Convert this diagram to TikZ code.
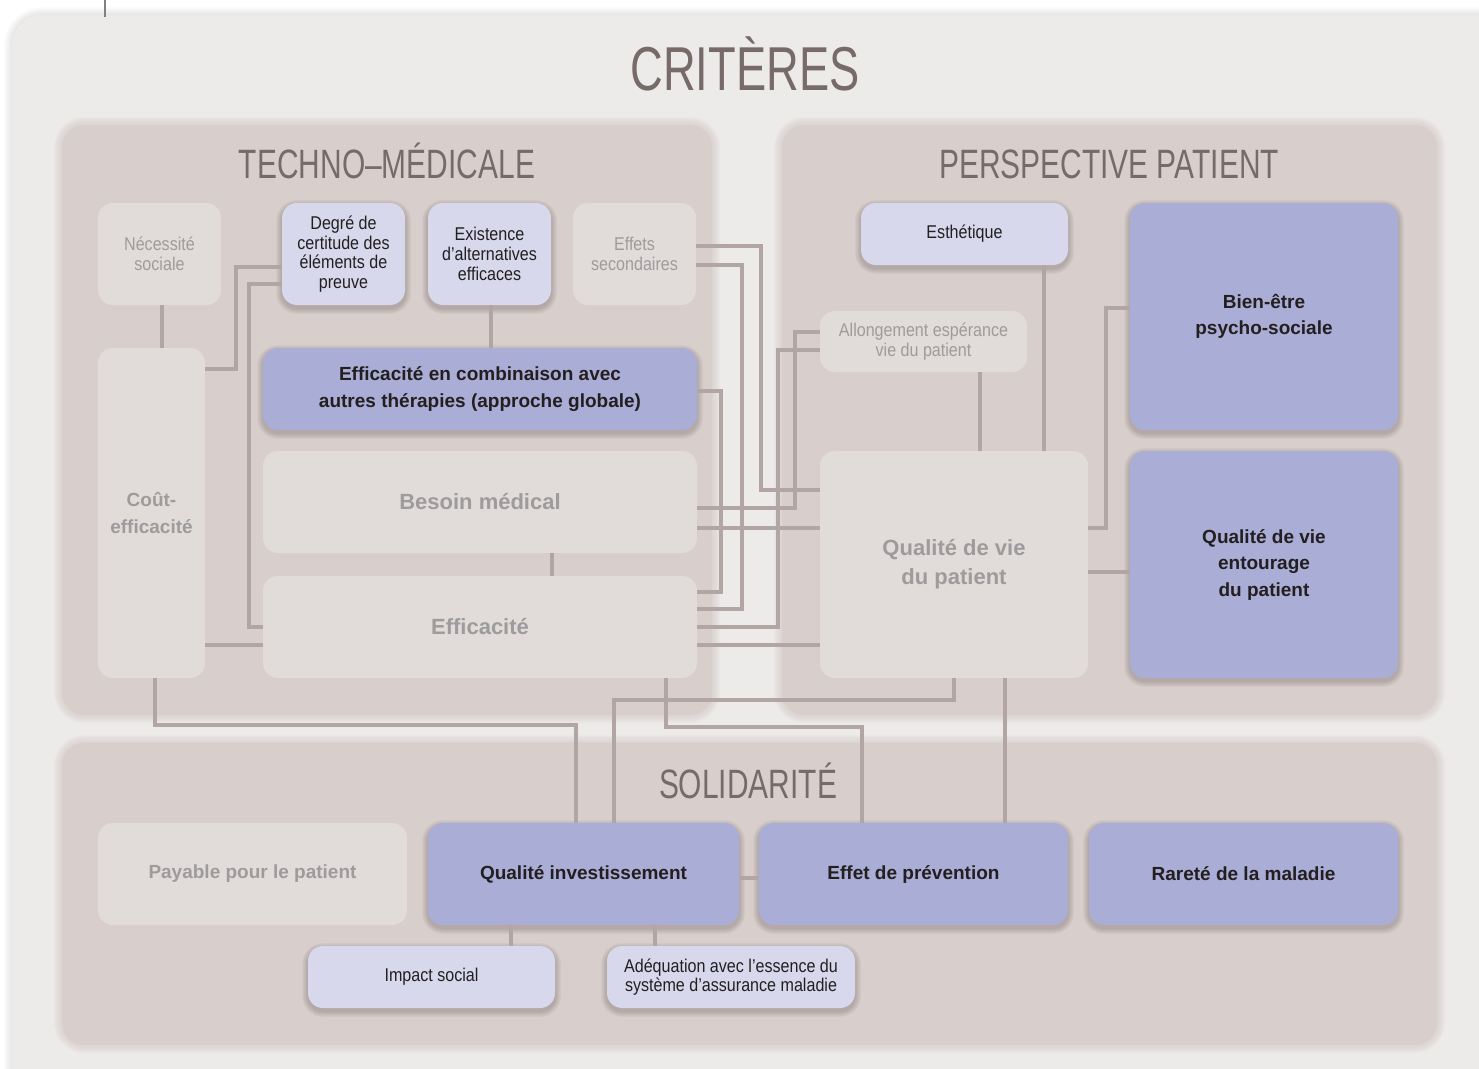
\documentclass[tikz,border=0pt]{standalone}
\usepackage{fontspec}
\setmainfont{Liberation Sans}
\newfontfamily\condfont[FakeStretch=0.87]{Liberation Sans}
\newfontfamily\headfont[FakeStretch=0.73]{Liberation Sans}

\definecolor{outerc}{HTML}{EDEBEA}
\definecolor{panelc}{HTML}{D8CFCD}
\definecolor{greyc}{HTML}{E1DCDA}
\definecolor{lilac}{HTML}{D7D8EC}
\definecolor{purplec}{HTML}{AAADD5}
\definecolor{linec}{HTML}{B1A6A4}
\definecolor{darktext}{HTML}{231F20}
\definecolor{greytext}{HTML}{9E9B9D}
\definecolor{headc}{HTML}{776B6A}
\definecolor{shadowc}{HTML}{3A2E2C}

\tikzset{
  conn/.style={draw=linec, line width=4pt},
  box/.style={rectangle, rounded corners=15pt, inner sep=2pt, align=center},
  greybox/.style={box, fill=greyc, text=greytext},
  lilabox/.style={box, fill=lilac, text=darktext},
  purplebox/.style={box, fill=purplec, text=darktext},
  condtext/.style={font=\condfont\fontsize{18.5}{19.7}\selectfont},
  boldtext/.style={font=\bfseries\fontsize{19}{26.5}\selectfont},
  bigbold/.style={font=\bfseries\fontsize{22}{29}\selectfont},
  headtitle/.style={text=headc, anchor=base, inner sep=0pt, font=\headfont\fontsize{62}{62}\selectfont},
  sectitle/.style={text=headc, anchor=base, inner sep=0pt, font=\headfont\fontsize{41}{41}\selectfont},
}

% box without shadow: name, x1, y1, x2, y2, style, text
\newcommand\flatbox[7]{%
  \node[#6, minimum width={#4-#2}, minimum height={#5-#3}] (#1)
    at ({(#2+#4)/2},{(#3+#5)/2}) {#7};}
% box with a soft drop shadow
\newcommand\liftbox[7]{%
  \foreach \k in {1,...,6}{%
    \fill[shadowc, opacity=0.04, rounded corners={(15+\k)*1pt}]
      ({#2-\k},{#3-\k+3}) rectangle ({#4+\k},{#5+\k+3});}%
  \flatbox{#1}{#2}{#3}{#4}{#5}{#6}{#7}}
% group panel with feathered edge
\newcommand\panel[4]{%
  \foreach \k in {1,...,8}{%
    \fill[panelc, opacity=0.13, rounded corners={(22+\k)*1pt}]
      ({#1-\k},{#2-\k}) rectangle ({#3+\k},{#4+\k});}%
  \fill[panelc, rounded corners=22pt] (#1,#2) rectangle (#3,#4);}

\begin{document}
\begin{tikzpicture}[x=1pt, y=-1pt]
\useasboundingbox (0,0) rectangle (1479,1068);
\fill[white] (0,0) rectangle (1479,1068);

% outer sheet
\foreach \k in {1,...,8}{%
  \fill[black, opacity=0.012, rounded corners={(30+\k)*1pt}]
    ({12-\k},{15-\k}) rectangle ({1510+\k},{1110+\k});}
\fill[outerc, rounded corners=30pt] (12,15) rectangle (1510,1110);
\draw[gray, line width=1.2pt] (105,0) -- (105,17);

% panels
\panel{62}{125}{712}{715}
\panel{782}{125}{1437}{715}
\panel{62}{743}{1437}{1045}

% titles
\node[headtitle] (title) at (745,90) {CRITÈRES};
\node[sectitle] (techt) at (387,178) {TECHNO–MÉDICALE};
\node[sectitle] (patt) at (1109,178) {PERSPECTIVE PATIENT};
\node[sectitle] (solt) at (748,798) {SOLIDARITÉ};

% techno-medical criteria
\flatbox{necessite}{98}{203}{221}{305}{greybox,condtext}{Nécessité\\sociale}
\liftbox{degre}{282}{203}{405}{305}{lilabox,condtext}{Degré de\\certitude des\\éléments de\\preuve}
\liftbox{existence}{428}{203}{551}{305}{lilabox,condtext}{Existence\\d’alternatives\\efficaces}
\flatbox{effets}{573}{203}{696}{305}{greybox,condtext}{Effets\\secondaires}
\flatbox{cout}{98}{348}{205}{678}{greybox,boldtext}{Coût-\\efficacité}
\liftbox{combinaison}{263}{348}{697}{430}{purplebox,boldtext}{Efficacité en combinaison avec\\autres thérapies (approche globale)}
\flatbox{besoin}{263}{451}{697}{553}{greybox,bigbold}{Besoin médical}
\flatbox{efficacite}{263}{576}{697}{678}{greybox,bigbold}{Efficacité}

% patient perspective
\liftbox{esthetique}{861}{203}{1068}{265}{lilabox,condtext}{Esthétique}
\flatbox{allong}{820}{311}{1027}{372}{greybox,condtext}{Allongement espérance\\vie du patient}
\liftbox{bienetre}{1130}{203}{1398}{430}{purplebox,boldtext}{Bien-être\\psycho-sociale}
\flatbox{qdvp}{820}{451}{1088}{678}{greybox,bigbold}{Qualité de vie\\du patient}
\liftbox{entourage}{1130}{451}{1398}{678}{purplebox,boldtext}{Qualité de vie\\entourage\\du patient}

% solidarity
\flatbox{payable}{98}{823}{407}{925}{greybox,boldtext}{Payable pour le patient}
\liftbox{qinvest}{428}{823}{739}{925}{purplebox,boldtext}{Qualité investissement}
\liftbox{prevention}{759}{823}{1068}{925}{purplebox,boldtext}{Effet de prévention}
\liftbox{rarete}{1089}{823}{1398}{925}{purplebox,boldtext}{Rareté de la maladie}
\liftbox{impact}{308}{946}{555}{1008}{lilabox,condtext}{Impact social}
\liftbox{adequation}{607}{946}{855}{1008}{lilabox,condtext}{Adéquation avec l’essence du\\système d’assurance maladie}

% connectors
\draw[conn] (necessite.south -| 162,0) -- (cout.north -| 162,0);
\draw[conn] (cout.east |- 0,369) -| (236,267) -- (degre.west |- 0,267);
\draw[conn] (degre.west |- 0,284) -| (249,627) -- (efficacite.west |- 0,627);
\draw[conn] (cout.east |- 0,645) -- (efficacite.west |- 0,645);
\draw[conn] (existence.south -| 491,0) -- (combinaison.north -| 491,0);
\draw[conn] (besoin.south -| 552,0) -- (efficacite.north -| 552,0);
\draw[conn] (combinaison.east |- 0,391) -| (721,592) -- (efficacite.east |- 0,592);
\draw[conn] (effets.east |- 0,265) -| (742,609) -- (efficacite.east |- 0,609);
\draw[conn] (effets.east |- 0,246) -| (761,490) -- (qdvp.west |- 0,490);
\draw[conn] (allong.west |- 0,350) -| (778,627) -- (efficacite.east |- 0,627);
\draw[conn] (allong.west |- 0,332) -| (795,508) -- (besoin.east |- 0,508);
\draw[conn] (besoin.east |- 0,528) -- (qdvp.west |- 0,528);
\draw[conn] (efficacite.east |- 0,645) -- (qdvp.west |- 0,645);
\draw[conn] (esthetique.south -| 1044,0) -- (qdvp.north -| 1044,0);
\draw[conn] (allong.south -| 980,0) -- (qdvp.north -| 980,0);
\draw[conn] (qdvp.east |- 0,528) -| (1106,308) -- (bienetre.west |- 0,308);
\draw[conn] (qdvp.east |- 0,572) -- (entourage.west |- 0,572);
\draw[conn] (cout.south -| 155,0) |- (576,725) -- (qinvest.north -| 576,0);
\draw[conn] (qdvp.south -| 954,0) |- (614,700) -- (qinvest.north -| 614,0);
\draw[conn] (efficacite.south -| 666,0) |- (862,727) -- (prevention.north -| 862,0);
\draw[conn] (qdvp.south -| 1005,0) -- (prevention.north -| 1005,0);
\draw[conn] (qinvest.east |- 0,878) -- (prevention.west |- 0,878);
\draw[conn] (qinvest.south -| 511,0) -- (impact.north -| 511,0);
\draw[conn] (qinvest.south -| 655,0) -- (adequation.north -| 655,0);
\end{tikzpicture}
\end{document}
